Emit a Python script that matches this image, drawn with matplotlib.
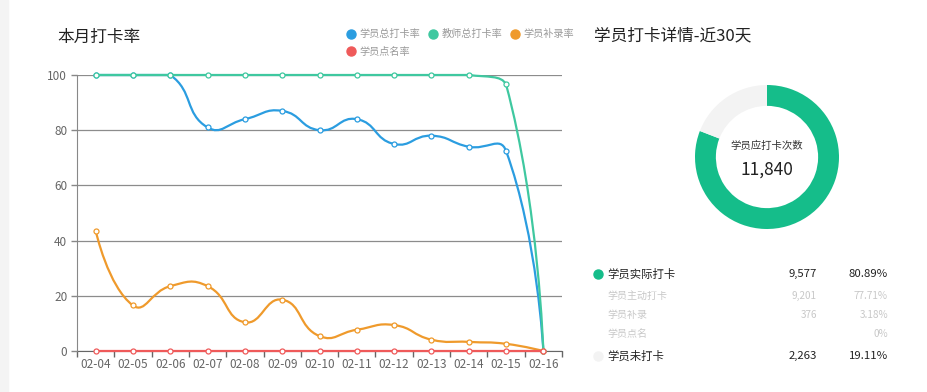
import numpy as np
import matplotlib
matplotlib.use('Agg')
import matplotlib.pyplot as plt
from matplotlib.path import Path
from matplotlib.patches import PathPatch, Rectangle
from matplotlib.lines import Line2D

plt.rcParams['font.family'] = ['Noto Sans CJK SC', 'DejaVu Sans']

W, H = 927, 392

# ---- data ----
dates = ['02-04', '02-05', '02-06', '02-07', '02-08', '02-09', '02-10',
         '02-11', '02-12', '02-13', '02-14', '02-15', '02-16']
student_rate = [100, 100, 100, 81, 84, 87, 80, 84, 75, 78, 74, 72.5, 0]
teacher_rate = [100, 100, 100, 100, 100, 100, 100, 100, 100, 100, 100, 96.6, 0]
makeup_rate = [43.6, 16.5, 23.5, 23.5, 10.4, 18.6, 5.4, 7.7, 9.4, 4.1, 3.3, 2.6, 0]
rollcall_rate = [0, 0, 0, 0, 0, 0, 0, 0, 0, 0, 0, 0, 0]

series_names = ['学员总打卡率', '教师总打卡率', '学员补录率', '学员点名率']
series_colors = ['#2b9de0', '#3fc8a0', '#ef9a2c', '#ef5a5a']

donut_values = [9577, 2263]
donut_colors = ['#15bd8a', '#f3f3f3']
total_label = '学员应打卡次数'
total_value = '11,840'

detail_labels = ['学员实际打卡', '学员主动打卡', '学员补录', '学员点名', '学员未打卡']
detail_counts = ['9,577', '9,201', '376', '', '2,263']
detail_pcts = ['80.89%', '77.71%', '3.18%', '0%', '19.11%']
detail_main = [True, False, False, False, True]


def px(x, y):
    return x / W, 1 - y / H


def smooth_path(ax, xs, ys, smooth=0.5):
    # echarts-like bezier smoothing, computed in pixel space
    pts = ax.transData.transform(np.column_stack([xs, ys]).astype(float))
    lo, hi = pts.min(axis=0), pts.max(axis=0)
    n = len(pts)
    out_cp = [pts[0]] * n
    in_cp = [pts[0]] * n
    for i in range(n):
        p = pts[i]
        if i == 0 or i == n - 1:
            out_cp[i] = p
            in_cp[i] = p
            continue
        prev, nxt = pts[i - 1], pts[i + 1]
        v = (nxt - prev) * smooth
        d0 = np.hypot(*(p - prev))
        d1 = np.hypot(*(nxt - p))
        r = d1 / (d0 + d1) if d0 + d1 else 0.5
        out_cp[i] = np.clip(p + v * r, lo, hi)
        in_cp[i] = np.clip(p - v * (1 - r), lo, hi)
    verts = [pts[0]]
    codes = [Path.MOVETO]
    for i in range(n - 1):
        verts += [out_cp[i], in_cp[i + 1], pts[i + 1]]
        codes += [Path.CURVE4] * 3
    verts = ax.transData.inverted().transform(np.array(verts))
    return Path(verts, codes)


fig = plt.figure(figsize=(W / 100, H / 100), dpi=100)
fig.add_artist(Rectangle((0, 0), 8 / W, 1, transform=fig.transFigure,
                         color='#f4f4f4', zorder=-5))

# ---- line chart ----
left, right, top, bottom = 77, 562, 75, 351
ax = fig.add_axes([left / W, 1 - bottom / H, (right - left) / W, (bottom - top) / H])
x = np.arange(len(dates))
ax.set_xlim(-0.5, len(dates) - 0.5)
ax.set_ylim(0, 100)

ax.set_yticks([0, 20, 40, 60, 80, 100])
ax.yaxis.grid(True, color='#8c8c8c', lw=0.9)
ax.set_axisbelow(True)
ax.set_xticks(np.arange(-0.5, len(dates)), labels=[])
ax.set_xticks(x, labels=dates, minor=True)
ax.tick_params(axis='x', which='major', length=4, color='#666666', width=1)
ax.tick_params(axis='x', which='minor', length=0, pad=5, labelsize=8.5, labelcolor='#666666')
ax.tick_params(axis='y', length=4, color='#888888', width=1, labelsize=8.5,
               labelcolor='#666666', pad=3)
for s in ['top', 'right']:
    ax.spines[s].set_visible(False)
ax.spines['left'].set_color('#888888')
ax.spines['bottom'].set_color('#666666')
ax.spines['bottom'].set_zorder(0.5)

all_series = [student_rate, teacher_rate, makeup_rate, rollcall_rate]
for k, (ys, c) in enumerate(zip(all_series, series_colors)):
    path = smooth_path(ax, x, ys)
    ax.add_patch(PathPatch(path, fill=False, edgecolor=c, lw=1.6, zorder=3 + k,
                           clip_on=False))
    ax.plot(x, ys, 'o', ms=3.6, mfc='white', mec=c, mew=0.9, zorder=3.5 + k,
            clip_on=False)

fig.text(*px(57, 37), '本月打卡率', fontsize=12, color='#222222', va='center')

order = [0, 3, 1, 2]
handles = [Line2D([], [], ls='none', marker='o', ms=6.5, color=series_colors[i])
           for i in order]
fig.legend(handles, [series_names[i] for i in order], ncol=3, frameon=False,
           loc='upper left', bbox_to_anchor=px(342, 24), borderpad=0,
           handlelength=0.8, handletextpad=0.4, columnspacing=0.9,
           labelspacing=0.75, fontsize=7.3, labelcolor='#999999')

# ---- donut ----
cx, cy, R = 767, 157, 72
ext = 80
dax = fig.add_axes([(cx - ext) / W, 1 - (cy + ext) / H, 2 * ext / W, 2 * ext / H])
dax.pie(donut_values, colors=donut_colors, startangle=90, counterclock=False,
        radius=1, wedgeprops=dict(width=0.29, linewidth=0))
dax.set_xlim(-ext / R, ext / R)
dax.set_ylim(-ext / R, ext / R)
dax.set_aspect('equal')
dax.axis('off')
dax.text(0, 0.15, total_label, ha='center', va='center', fontsize=7.5, color='#333333')
dax.text(0, -0.17, total_value, ha='center', va='center', fontsize=12.5, color='#222222')

fig.text(*px(594, 36), '学员打卡详情-近30天', fontsize=12, color='#222222', va='center')

# ---- detail table ----
row_y = [274, 296, 315, 334, 356]
for lab, cnt, pct, main, yy in zip(detail_labels, detail_counts, detail_pcts,
                                   detail_main, row_y):
    col = '#222222' if main else '#c8c8c8'
    fs = 8.2 if main else 7.2
    fig.text(*px(607, yy), lab, fontsize=fs, color=col, va='center')
    fig.text(*px(817, yy), cnt, fontsize=fs, color=col, va='center', ha='right')
    fig.text(*px(888, yy), pct, fontsize=fs, color=col, va='center', ha='right')
fig.add_artist(Line2D([598 / W], [1 - row_y[0] / H], transform=fig.transFigure,
                      marker='o', ms=6.5, color=donut_colors[0], ls='none'))
fig.add_artist(Line2D([598 / W], [1 - row_y[-1] / H], transform=fig.transFigure,
                      marker='o', ms=6.5, color=donut_colors[1], ls='none'))

fig.savefig('out.png', dpi=100)
